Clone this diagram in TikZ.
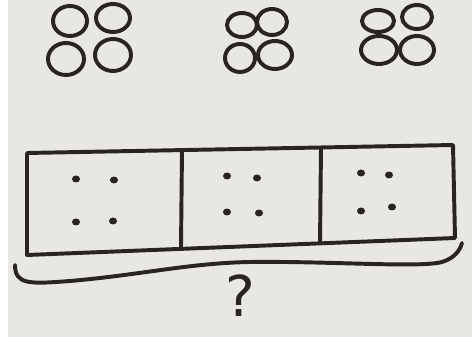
\documentclass[tikz,border=0pt]{standalone}
\usepackage{fontspec}
\newfontfamily\handfont{DejaVu Sans}
\usepackage{tikz}
\usetikzlibrary{positioning}
\usepackage{xcolor}
\definecolor{paper}{RGB}{233,231,227}
\definecolor{marker}{RGB}{40,36,33}

\tikzset{
	pen/.style={draw=marker,line width=2.8pt,line cap=round,line join=round},
	bead/.style={fill=marker},
}

\begin{document}
\begin{tikzpicture}[x=0.25mm,y=-0.25mm]
		
		\fill[paper] (0,0) rectangle (472,337);
		\fill[white] (0,0) rectangle (8,337);
		\useasboundingbox (0,0) rectangle (472,337);
		
		% first group of counters
		\draw[pen] (70,21) ellipse (17 and 15);
		\draw[pen] (113,18) ellipse (17 and 14);
		\draw[pen] (66,59) ellipse (18 and 16);
		\draw[pen] (113,55) ellipse (18 and 16);
		
		% second group
		\draw[pen] (242,25) ellipse (15 and 12);
		\draw[pen] (272,22) ellipse (15 and 13);
		\draw[pen] (240,58) ellipse (15 and 14);
		\draw[pen] (275,55) ellipse (17 and 14);
		
		% third group
		\draw[pen] (378,21) ellipse (16 and 11);
		\draw[pen] (417,17) ellipse (15 and 12);
		\draw[pen] (379,50) ellipse (18 and 14);
		\draw[pen] (417,50) ellipse (17 and 14);
		
		% bar
		\draw[pen] (27,153) -- (453,145) -- (455,238) -- (27,255) -- cycle;
		\draw[pen] (182,150) -- (181,247);
		\draw[pen] (321,148) -- (320,243);
		
		% dots
		\foreach \x/\y in {76/179,114/180,76/222,113/221,
			227/176,257/178,227/212,259/213,
			361/173,389/175,361/211,392/207}
		\fill[bead] (\x,\y) ellipse (4 and 3.5);
		
		% brace
		\draw[pen] (15,265) .. controls (15,285) and (30,284) .. (70,281)
		.. controls (140,275) and (190,263) .. (250,262)
		.. controls (330,261) and (420,268) .. (442,262)
		.. controls (455,258) and (460,250) .. (462,243);
		
		\node[text=marker,font=\handfont\fontsize{40}{46}\selectfont] (question) at (240,296) {?};
		
	\end{tikzpicture}
\end{document}
